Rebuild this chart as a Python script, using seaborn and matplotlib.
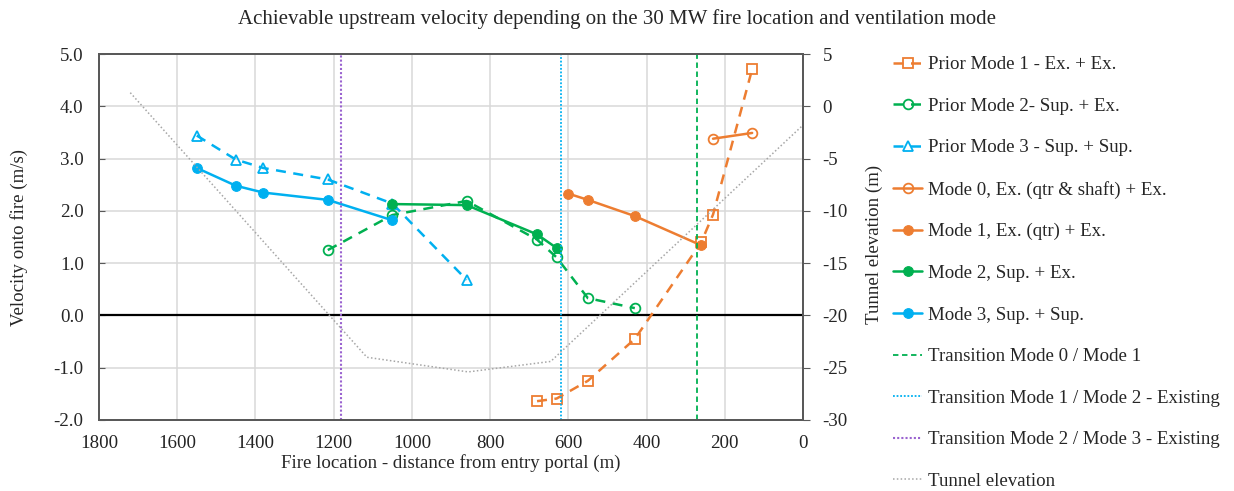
import matplotlib

matplotlib.use("Agg")

import matplotlib.pyplot as plt
import seaborn as sns
from matplotlib.ticker import FormatStrFormatter, MultipleLocator


# values
prior1_x = [680, 630, 550, 430, 260, 230, 130]
prior1_y = [-1.64, -1.59, -1.25, -0.45, 1.40, 1.93, 4.71]

prior2_x = [1215, 1050, 860, 680, 630, 550, 430]
prior2_y = [1.25, 1.92, 2.19, 1.45, 1.11, 0.33, 0.14]

prior3_x = [1550, 1450, 1380, 1215, 1050, 860]
prior3_y = [3.44, 2.98, 2.82, 2.60, 2.14, 0.68]

mode0_x = [230, 130]
mode0_y = [3.38, 3.49]

mode1_x = [600, 550, 430, 260]
mode1_y = [2.33, 2.21, 1.90, 1.34]

mode2_x = [1050, 860, 680, 630]
mode2_y = [2.13, 2.11, 1.55, 1.29]

mode3_x = [1550, 1450, 1380, 1215, 1050]
mode3_y = [2.82, 2.48, 2.35, 2.21, 1.82]

transition_x = [270, 620, 1180]

tunnel_x = [1720, 1115, 856, 645, 0]
tunnel_z = [1.3, -24.0, -25.4, -24.4, -1.8]

ORANGE = "#ED7D31"
GREEN = "#00B050"
BLUE = "#00B0F0"
PURPLE = "#9A63D0"
GREY = "#A6A6A6"
FS = 13.6

sns.set_style("whitegrid")
plt.rcParams["font.family"] = ["Liberation Serif", "DejaVu Serif"]
plt.rcParams["axes.unicode_minus"] = False
plt.rcParams["font.size"] = FS

W, H = 1234, 491
fig = plt.figure(figsize=(W / 100, H / 100), dpi=100)
ax = fig.add_axes([99 / W, 1 - 420 / H, 704 / W, 366 / H])
ax2 = ax.twinx()

line_kw = dict(ax=ax, sort=False, errorbar=None, linewidth=1.8, markersize=7)

sns.lineplot(x=prior1_x, y=prior1_y, color=ORANGE, linestyle=(0, (4, 3)), marker="s",
             markerfacecolor="none", markeredgecolor=ORANGE, markeredgewidth=1.3,
             label="Prior Mode 1 - Ex. + Ex.", **line_kw)
sns.lineplot(x=prior2_x, y=prior2_y, color=GREEN, linestyle=(0, (4, 3)), marker="o",
             markerfacecolor="none", markeredgecolor=GREEN, markeredgewidth=1.3,
             label="Prior Mode 2- Sup. + Ex.", **line_kw)
sns.lineplot(x=prior3_x, y=prior3_y, color=BLUE, linestyle=(0, (4, 3)), marker="^",
             markerfacecolor="none", markeredgecolor=BLUE, markeredgewidth=1.3,
             label="Prior Mode 3 - Sup. + Sup.", **line_kw)
sns.lineplot(x=mode0_x, y=mode0_y, color=ORANGE, marker="o", markerfacecolor="none",
             markeredgecolor=ORANGE, markeredgewidth=1.3,
             label="Mode 0, Ex. (qtr & shaft) + Ex.", **line_kw)
sns.lineplot(x=mode1_x, y=mode1_y, color=ORANGE, marker="o", markeredgecolor=ORANGE,
             label="Mode 1, Ex. (qtr) + Ex.", **line_kw)
sns.lineplot(x=mode2_x, y=mode2_y, color=GREEN, marker="o", markeredgecolor=GREEN,
             label="Mode 2, Sup. + Ex.", **line_kw)
sns.lineplot(x=mode3_x, y=mode3_y, color=BLUE, marker="o", markeredgecolor=BLUE,
             label="Mode 3, Sup. + Sup.", **line_kw)

ax.axvline(transition_x[0], color=GREEN, linestyle=(0, (3, 2)), linewidth=1.3,
           label="Transition Mode 0 / Mode 1")
ax.axvline(transition_x[1], color=BLUE, linestyle=(0, (1, 1)), linewidth=1.3,
           label="Transition Mode 1 / Mode 2 - Existing")
ax.axvline(transition_x[2], color=PURPLE, linestyle=(0, (1, 1)), linewidth=1.5,
           label="Transition Mode 2 / Mode 3 - Existing")
ax.axhline(0, color="black", linewidth=1.6, zorder=1)

sns.lineplot(x=tunnel_x, y=tunnel_z, ax=ax2, sort=False, errorbar=None, color=GREY,
             linestyle=(0, (1, 1.5)), linewidth=1.1, label="Tunnel elevation")

# axes: distance runs from 1800 down to 0
ax.set_xlim(1800, 0)
ax.set_ylim(-2, 5)
ax2.set_ylim(-30, 5)
ax.xaxis.set_major_locator(MultipleLocator(200))
ax.yaxis.set_major_locator(MultipleLocator(1))
ax2.yaxis.set_major_locator(MultipleLocator(5))
ax.yaxis.set_major_formatter(FormatStrFormatter("%.1f"))

ax.grid(True, color="#D9D9D9", linewidth=1.1)
ax2.grid(False)
for a in (ax, ax2):
    for side in ["left", "bottom", "right", "top"]:
        a.spines[side].set_color("#595959")
        a.spines[side].set_linewidth(1.4)

ax.tick_params(axis="x", length=0, pad=11, labelsize=FS, colors="#222222")
ax.tick_params(axis="y", length=4, direction="in", color="#595959", pad=11, labelsize=FS)
ax2.tick_params(axis="y", length=5, direction="out", color="#595959", pad=9, labelsize=FS)

ax.set_xlabel("Fire location - distance from entry portal (m)", fontsize=FS)
ax.set_ylabel("Velocity onto fire (m/s)", fontsize=FS)
ax2.set_ylabel("Tunnel elevation (m)", fontsize=FS)
ax.xaxis.set_label_coords(0.5, (420 - 454) / 366)
ax.yaxis.set_label_coords((28 - 99) / 704, 0.5)
ax2.yaxis.set_label_coords((866 - 99) / 704, 0.48)

fig.text(0.5, 1 - 19 / H,
         "Achievable upstream velocity depending on the 30 MW fire location and ventilation mode",
         ha="center", va="center", fontsize=15)

handles, labels = ax.get_legend_handles_labels()
h2, l2 = ax2.get_legend_handles_labels()
if ax.get_legend() is not None:
    ax.get_legend().remove()
if ax2.get_legend() is not None:
    ax2.get_legend().remove()
fig.legend(handles + h2, labels + l2, loc="upper left",
           bbox_to_anchor=(893 / W, 1 - 56 / H), frameon=False,
           fontsize=FS, labelspacing=1.29, handlelength=1.55, handletextpad=0.3,
           borderaxespad=0, borderpad=0)

fig.savefig("out.png", dpi=100)
plt.close(fig)
